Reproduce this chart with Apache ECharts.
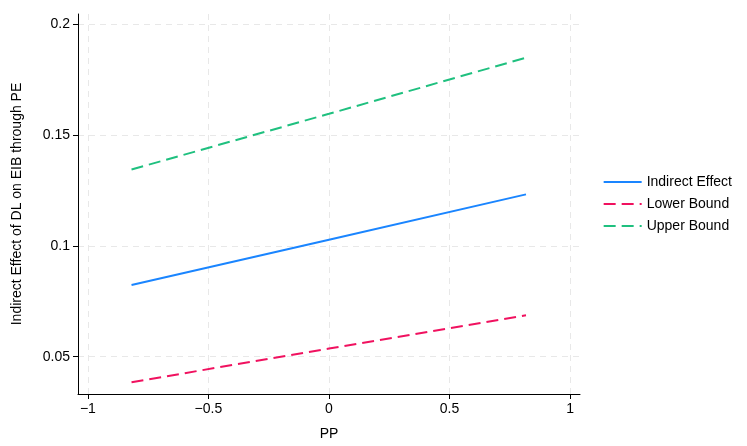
<!DOCTYPE html><html><head><meta charset="utf-8"><script src="https://cdn.jsdelivr.net/npm/echarts@6/dist/echarts.min.js"></script>
<style>html,body{margin:0;background:#fff}#c{width:747px;height:446px}</style></head><body><div id="c"></div><script>
const xs=[-0.819,0,0.817];
const indirect=[0.0823,0.1027,0.1232];
const lower=[0.0385,0.0537,0.0687];
const upper=[0.1344,0.1595,0.1848];
const xTicks=[-1,-0.5,0,0.5,1];
const yTicks=[0.05,0.1,0.15,0.2];
const fmt=v=>String(v).replace('-','\u2212');
const pairs=a=>xs.map((x,i)=>[x,a[i]]);
const ch=echarts.init(document.getElementById('c'));
const F='Liberation Sans, Arial';
const axisCommon={axisLine:{show:true,onZero:false,lineStyle:{color:'#000'}},splitLine:{show:true,lineStyle:{color:'#e8e8e8',type:[6,5]}}};
ch.setOption({animation:false,
grid:{left:78,right:167,top:14,bottom:51},
legend:{orient:'vertical',right:10,top:170,itemGap:8,itemWidth:38,itemHeight:14,textStyle:{fontSize:14,color:'#000',fontFamily:F},
 data:['Indirect Effect','Lower Bound','Upper Bound'].map(n=>({name:n,itemStyle:{opacity:0}}))},
xAxis:Object.assign({},axisCommon,{type:'value',min:-1.041,max:1.041,name:'PP',nameLocation:'middle',nameGap:33,nameTextStyle:{fontSize:14,color:'#000',fontFamily:F},
 axisTick:{show:true,length:5,lineStyle:{color:'#000'},customValues:xTicks},axisLabel:{color:'#000',fontSize:14,fontFamily:F,customValues:xTicks,formatter:fmt}}),
yAxis:Object.assign({},axisCommon,{type:'value',min:0.0332,max:0.2045,name:'Indirect Effect of DL on EIB through PE',nameLocation:'middle',nameGap:54,nameTextStyle:{fontSize:14,color:'#000',fontFamily:F},
 axisTick:{show:true,length:5,lineStyle:{color:'#000'},customValues:yTicks},axisLabel:{color:'#000',fontSize:14,fontFamily:F,customValues:yTicks,formatter:v=>String(v)}}),
series:[
{name:'Indirect Effect',type:'line',data:pairs(indirect),symbol:'none',lineStyle:{color:'#1a85ff',width:2},itemStyle:{color:'#1a85ff'}},
{name:'Lower Bound',type:'line',data:pairs(lower),symbol:'none',lineStyle:{color:'#f0115f',width:2,type:[12,6]},itemStyle:{color:'#f0115f'}},
{name:'Upper Bound',type:'line',data:pairs(upper),symbol:'none',lineStyle:{color:'#1fc07f',width:2,type:[12,6]},itemStyle:{color:'#1fc07f'}}
]});
</script></body></html>
